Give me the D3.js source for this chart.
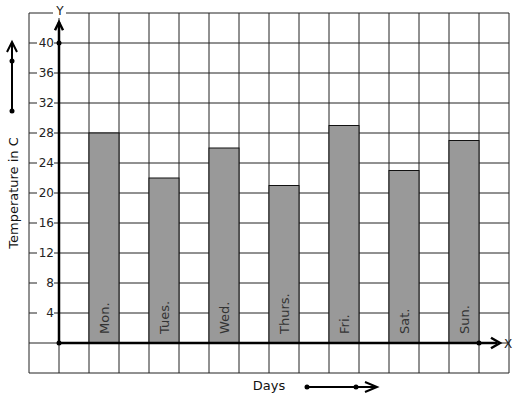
<!DOCTYPE html>
<html>
<head>
<meta charset="utf-8">
<script src="https://cdn.jsdelivr.net/npm/d3@7"></script>
<style>
  body { margin: 0; background: #fff; }
  text { font-family: "DejaVu Sans", sans-serif; }
</style>
</head>
<body>
<svg id="chart" width="517" height="399"></svg>
<script>
const days = ['Mon.', 'Tues.', 'Wed.', 'Thurs.', 'Fri.', 'Sat.', 'Sun.'];
const temps = [28, 22, 26, 21, 29, 23, 27];
const yTicks = [4, 8, 12, 16, 20, 24, 28, 32, 36, 40];

const svg = d3.select('#chart');

// grid runs one cell past the axes on every side
const xGrid = d3.scaleLinear().domain([-1, 15]).range([29, 509]);
const y = d3.scaleLinear().domain([-4, 44]).range([373, 13]);
const x = d3.scaleBand().domain(days).range([xGrid(1), xGrid(15)]);

const grid = svg.append('g').attr('stroke', '#222').attr('stroke-width', 1);
grid.selectAll('.v')
  .data(d3.range(-1, 16))
  .enter().append('line')
  .attr('x1', d => xGrid(d)).attr('x2', d => xGrid(d))
  .attr('y1', y(44)).attr('y2', y(-4));
grid.selectAll('.h')
  .data(d3.range(-4, 45, 4))
  .enter().append('line')
  .attr('x1', xGrid(-1)).attr('x2', xGrid(15))
  .attr('y1', d => y(d)).attr('y2', d => y(d));

// bars
svg.selectAll('rect.bar')
  .data(temps)
  .enter().append('rect')
  .attr('class', 'bar')
  .attr('x', (d, i) => x(days[i]))
  .attr('y', d => y(d))
  .attr('width', x.bandwidth() / 2)
  .attr('height', d => y(0) - y(d))
  .attr('fill', '#999')
  .attr('stroke', '#111')
  .attr('stroke-width', 1);

// day labels inside bars
svg.selectAll('text.day')
  .data(days)
  .enter().append('text')
  .attr('class', 'day')
  .attr('transform', d => `translate(${x(d) + x.bandwidth() / 4 + 5},${y(0) - 9}) rotate(-90)`)
  .attr('font-size', 13)
  .attr('fill', '#333')
  .text(d => d);

// y tick labels with white backing that breaks the grid line
const tick = svg.selectAll('g.tick')
  .data(yTicks)
  .enter().append('g')
  .attr('transform', d => `translate(${xGrid(0) - 5},${y(d)})`);
tick.append('rect')
  .attr('x', -17).attr('y', -7).attr('width', 17).attr('height', 14)
  .attr('fill', '#fff');
tick.append('text')
  .attr('text-anchor', 'end')
  .attr('dy', '0.36em')
  .attr('font-size', 12)
  .attr('fill', '#222')
  .text(d => d);

// axes
const axes = svg.append('g').attr('stroke', '#000').attr('fill', 'none').attr('stroke-width', 2.5);
axes.append('line')
  .attr('x1', xGrid(0)).attr('x2', xGrid(0))
  .attr('y1', y(0)).attr('y2', y(42.8));
axes.append('path')
  .attr('d', `M${xGrid(0) - 4},${y(41.7)}L${xGrid(0)},${y(42.8)}L${xGrid(0) + 4},${y(41.7)}`);
axes.append('line')
  .attr('x1', xGrid(0)).attr('x2', xGrid(14.6))
  .attr('y1', y(0)).attr('y2', y(0));
axes.append('path')
  .attr('d', `M${xGrid(14.4)},${y(0.7)}L${xGrid(14.7)},${y(0)}L${xGrid(14.4)},${y(-0.7)}`);

const dots = [[xGrid(0), y(0)], [xGrid(0), y(40)], [xGrid(14), y(0)]];
svg.selectAll('circle.dot')
  .data(dots)
  .enter().append('circle')
  .attr('cx', d => d[0]).attr('cy', d => d[1]).attr('r', 2.5)
  .attr('fill', '#000');

// axis letters
svg.append('rect').attr('x', xGrid(0) - 6).attr('y', 4).attr('width', 13).attr('height', 14).attr('fill', '#fff');
svg.append('text').attr('x', xGrid(0) + 1).attr('y', 15).attr('text-anchor', 'middle')
  .attr('font-size', 12).attr('fill', '#222').text('Y');
svg.append('text').attr('x', xGrid(14.8) + 1).attr('y', y(0) + 4.5)
  .attr('font-size', 12).attr('fill', '#222').text('X');

// titles
svg.append('text')
  .attr('transform', `translate(18,${y(20)}) rotate(-90)`)
  .attr('text-anchor', 'middle')
  .attr('font-size', 13)
  .attr('fill', '#111')
  .text('Temperature in C');
svg.append('text')
  .attr('x', 269).attr('y', 390)
  .attr('text-anchor', 'middle')
  .attr('font-size', 13)
  .attr('fill', '#111')
  .text('Days');

// decorative direction arrows
const deco = svg.append('g').attr('stroke', '#000').attr('fill', 'none').attr('stroke-width', 2);
deco.append('line').attr('x1', 12).attr('x2', 12).attr('y1', 111).attr('y2', 43);
deco.append('path').attr('d', 'M7,52L12,42L17,52');
deco.append('line').attr('x1', 307).attr('x2', 376).attr('y1', 387).attr('y2', 387);
deco.append('path').attr('d', 'M365,382L377,387L365,392');
svg.selectAll('circle.deco')
  .data([[12, 61], [12, 111], [307, 387], [356, 387]])
  .enter().append('circle')
  .attr('cx', d => d[0]).attr('cy', d => d[1]).attr('r', 2.5)
  .attr('fill', '#000');
</script>
</body>
</html>
